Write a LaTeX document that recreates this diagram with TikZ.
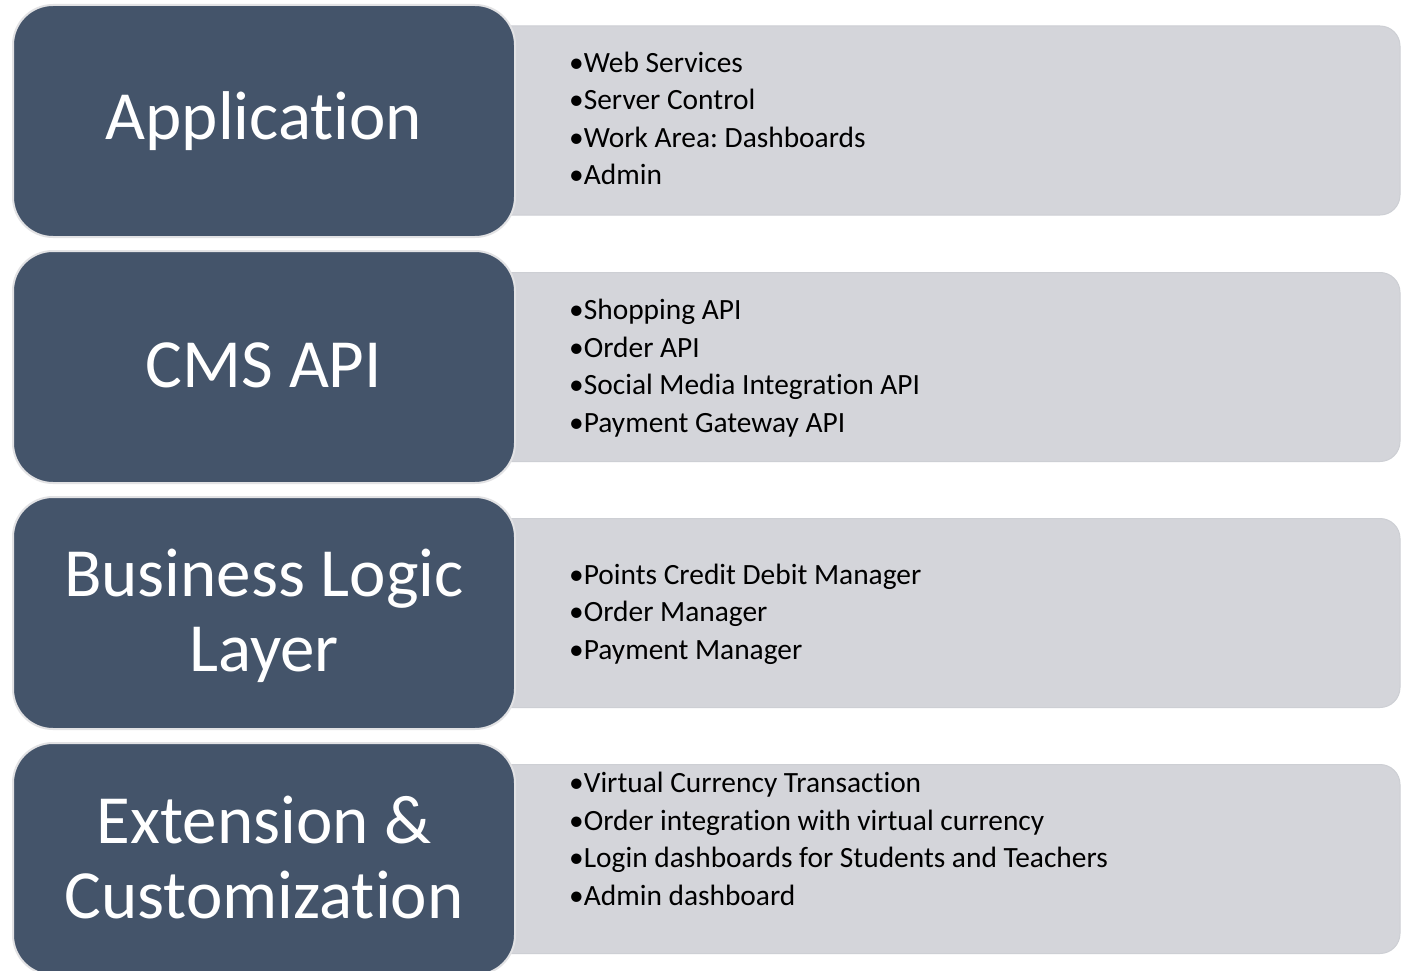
\documentclass[tikz,border=0pt]{standalone}
\usepackage{fontspec}
\setmainfont{Carlito}[Ligatures=NoCommon]
\frenchspacing
\definecolor{darkbox}{HTML}{44546A}
\definecolor{darkedge}{HTML}{E2E2E4}
\definecolor{lightbox}{HTML}{D4D5DA}
\definecolor{lightedge}{HTML}{CDCFD4}
\begin{document}
\begin{tikzpicture}[x=1pt,y=-1pt,
  layerbox/.style={fill=darkbox, draw=darkedge, line width=2pt, rounded corners=40pt,
    minimum width=502pt, minimum height=232pt, inner sep=0pt},
  layertext/.style={anchor=base, align=center, text=white, inner sep=0pt,
    font=\fontsize{69}{75}\selectfont},
  itembox/.style={fill=lightbox, draw=lightedge, line width=1pt, rounded corners=20pt,
    minimum width=920pt, minimum height=189pt, inner sep=0pt},
  itemtext/.style={anchor=base west, align=left, inner sep=0pt, text=black,
    font=\fontsize{29.4}{37.5}\selectfont}]
\clip (0,0) rectangle (1401,971);
\fill[white] (0,0) rectangle (1401,971);

% Row 1
\node[itembox] (g1) at (940,120.5) {};
\node[layerbox] (d1) at (264,121) {};
\node[layertext] (t1) at (264,140) {Application};
\node[itemtext] (i1) at (569,185) {•Web Services\\•Server Control\\•Work Area: Dashboards\\•Admin};

% Row 2
\node[itembox] (g2) at (940,367) {};
\node[layerbox] (d2) at (264,367) {};
\node[layertext] (t2) at (264,387) {CMS API};
\node[itemtext] (i2) at (569,432) {•Shopping API\\•Order API\\•Social Media Integration API\\•Payment Gateway API};

% Row 3
\node[itembox] (g3) at (940,613) {};
\node[layerbox] (d3) at (264,613) {};
\node[layertext] (t3) at (264,671) {Business Logic\\Layer};
\node[itemtext] (i3) at (569,659) {•Points Credit Debit Manager\\•Order Manager\\•Payment Manager};

% Row 4
\node[itembox] (g4) at (940,859) {};
\node[layerbox] (d4) at (264,859) {};
\node[layertext] (t4) at (264,918) {Extension \&\\Customization};
\node[itemtext] (i4) at (569,905) {•Virtual Currency Transaction\\•Order integration with virtual currency\\•Login dashboards for Students and Teachers\\•Admin dashboard};
\end{tikzpicture}
\end{document}
